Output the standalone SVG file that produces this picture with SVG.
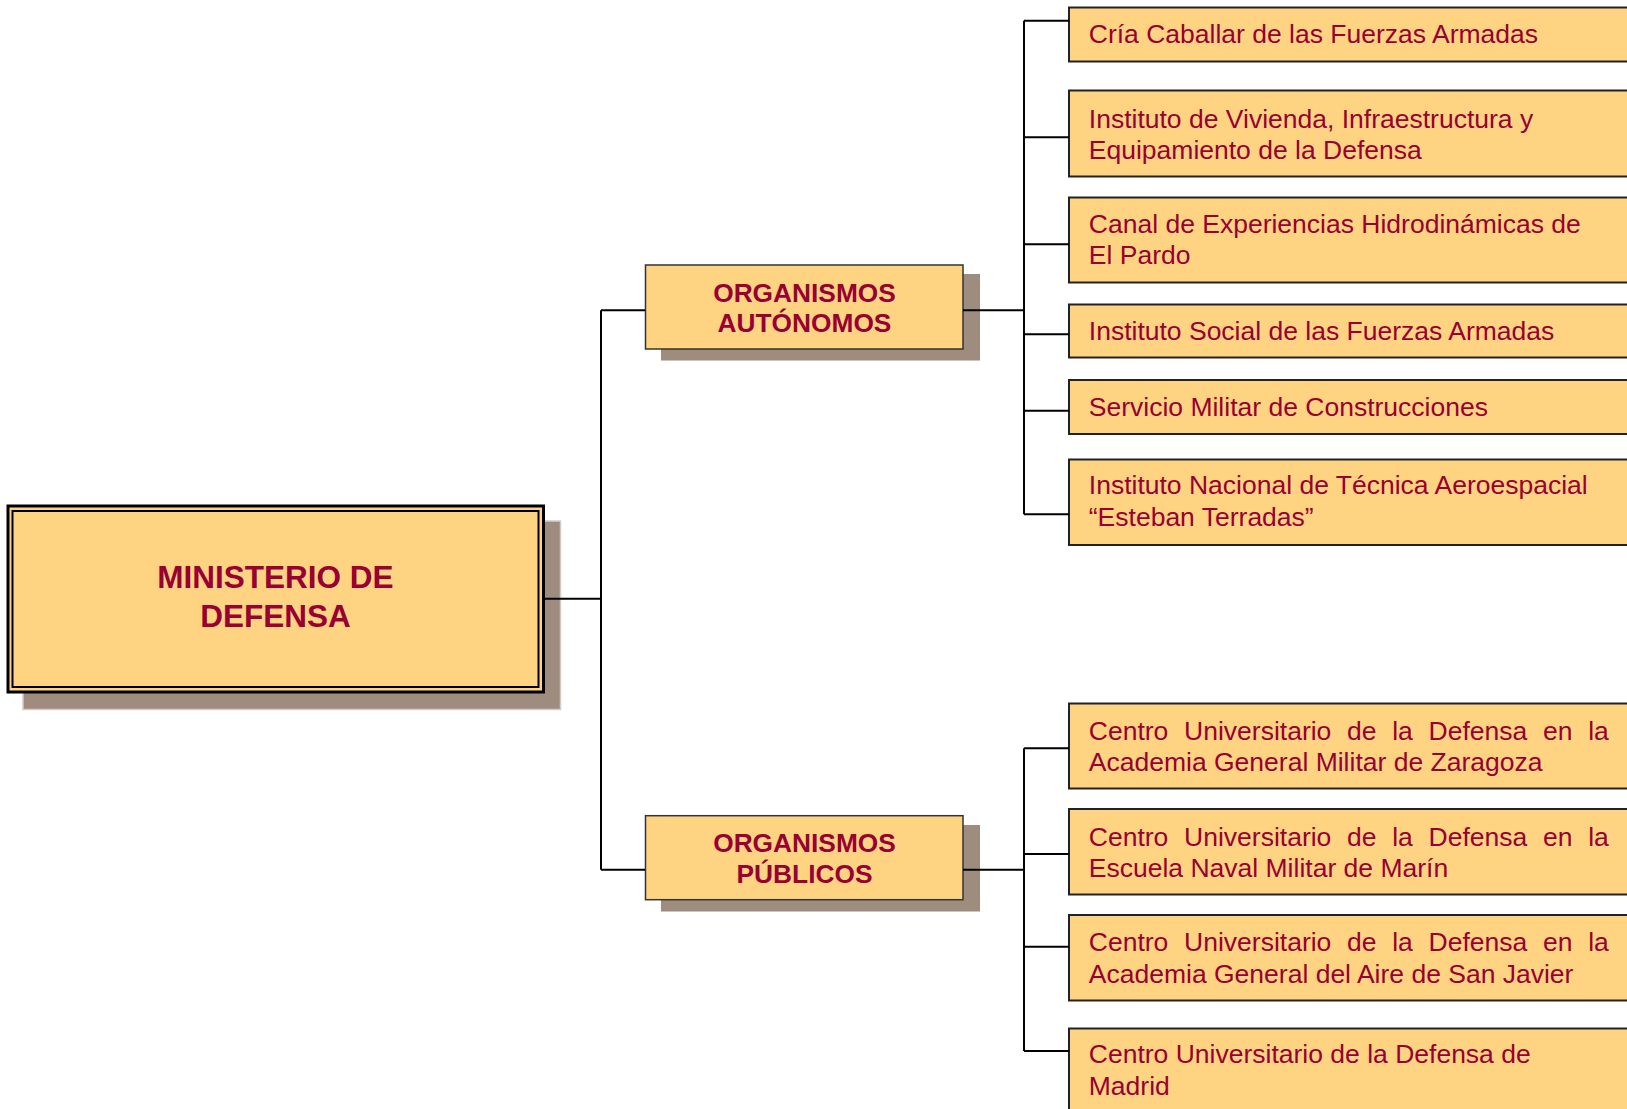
<svg xmlns="http://www.w3.org/2000/svg" width="1627" height="1109" viewBox="0 0 1627 1109">
<style>
.box{fill:#FED482;stroke:#222;stroke-width:2}
.mid{fill:#FED482;stroke:#333;stroke-width:1.5}
.sh{fill:#9E8C7E}
.t{font-family:"Liberation Sans",Arial,sans-serif;font-size:26.5px;fill:#990033}
.b{font-family:"Liberation Sans",Arial,sans-serif;font-weight:bold;fill:#990033;text-anchor:middle}
.c{fill:none;stroke:#000;stroke-width:2}
</style>
<rect width="1627" height="1109" fill="#fff"/>
<g id="ministerio">
<rect class="sh" x="23" y="521" width="537.5" height="188.5" stroke="#d6cbc4" stroke-width="1.5"/>
<rect x="8" y="506" width="535.5" height="186" fill="#FED482" stroke="#000" stroke-width="3"/>
<rect x="12.5" y="511" width="526" height="176" fill="none" stroke="#000" stroke-width="2"/>
<text class="b" font-size="31.5" x="275.5" y="587.5">MINISTERIO DE</text>
<text class="b" font-size="31.5" x="275.5" y="626.5">DEFENSA</text>
</g>
<g id="autonomos">
<rect class="sh" x="661" y="274" width="319" height="86.5"/>
<rect class="mid" x="645.5" y="265" width="317.5" height="84"/>
<text class="b" font-size="26.3" x="804.5" y="301.5">ORGANISMOS</text>
<text class="b" font-size="26.3" x="804.5" y="332.3">AUTÓNOMOS</text>
</g>
<g id="publicos">
<rect class="sh" x="661" y="825" width="319" height="86.5"/>
<rect class="mid" x="645.5" y="815.7" width="317.5" height="84"/>
<text class="b" font-size="26.3" x="804.5" y="852.3">ORGANISMOS</text>
<text class="b" font-size="26.3" x="804.5" y="883">PÚBLICOS</text>
</g>
<g id="n1"><rect class="box" x="1069" y="7.5" width="600" height="54"/><text class="t" x="1088.8" y="43.3">Cría Caballar de las Fuerzas Armadas</text></g>
<g id="n2"><rect class="box" x="1069" y="90.5" width="600" height="86"/><text class="t" x="1088.8" y="127.6">Instituto de Vivienda, Infraestructura y</text><text class="t" x="1088.8" y="158.6">Equipamiento de la Defensa</text></g>
<g id="n3"><rect class="box" x="1069" y="197.5" width="600" height="85"/><text class="t" x="1088.8" y="232.5">Canal de Experiencias Hidrodinámicas de</text><text class="t" x="1088.8" y="263.5">El Pardo</text></g>
<g id="n4"><rect class="box" x="1069" y="304.5" width="600" height="53"/><text class="t" x="1088.8" y="340">Instituto Social de las Fuerzas Armadas</text></g>
<g id="n5"><rect class="box" x="1069" y="380" width="600" height="54"/><text class="t" x="1088.8" y="415.7">Servicio Militar de Construcciones</text></g>
<g id="n6"><rect class="box" x="1069" y="459.5" width="600" height="85.5"/><text class="t" x="1088.8" y="493.5">Instituto Nacional de Técnica Aeroespacial</text><text class="t" x="1088.8" y="525.8">“Esteban Terradas”</text></g>
<g id="n7"><rect class="box" x="1069" y="703.5" width="600" height="85"/><text class="t" y="739.5"><tspan x="1088.8">Centro</tspan><tspan x="1184.1">Universitario</tspan><tspan x="1347">de</tspan><tspan x="1392.2">la</tspan><tspan x="1428.6">Defensa</tspan><tspan x="1543">en</tspan><tspan x="1588.2">la</tspan></text><text class="t" x="1088.8" y="771">Academia General Militar de Zaragoza</text></g>
<g id="n8"><rect class="box" x="1069" y="809" width="600" height="85.5"/><text class="t" y="845.5"><tspan x="1088.8">Centro</tspan><tspan x="1184.1">Universitario</tspan><tspan x="1347">de</tspan><tspan x="1392.2">la</tspan><tspan x="1428.6">Defensa</tspan><tspan x="1543">en</tspan><tspan x="1588.2">la</tspan></text><text class="t" x="1088.8" y="876.7">Escuela Naval Militar de Marín</text></g>
<g id="n9"><rect class="box" x="1069" y="915" width="600" height="85.5"/><text class="t" y="950.7"><tspan x="1088.8">Centro</tspan><tspan x="1184.1">Universitario</tspan><tspan x="1347">de</tspan><tspan x="1392.2">la</tspan><tspan x="1428.6">Defensa</tspan><tspan x="1543">en</tspan><tspan x="1588.2">la</tspan></text><text class="t" x="1088.8" y="982.7">Academia General del Aire de San Javier</text></g>
<g id="n10"><rect class="box" x="1069" y="1028.5" width="600" height="100"/><text class="t" x="1088.8" y="1063.3">Centro Universitario de la Defensa de</text><text class="t" x="1088.8" y="1095">Madrid</text></g>
<g id="connectors">
<path class="c" d="M543.5 598.7H601M601 310.3V869.7M601 310.3H645M601 869.7H645"/>
<path class="c" d="M963 310.3H1024M1024 20.7V514.3M1024 20.7H1069M1024 137.3H1069M1024 244.3H1069M1024 334.3H1069M1024 410.7H1069M1024 514.3H1069"/>
<path class="c" d="M963 869.7H1024M1024 748.3V1051M1024 748.3H1069M1024 854H1069M1024 946.7H1069M1024 1051H1069"/>
</g>
</svg>
